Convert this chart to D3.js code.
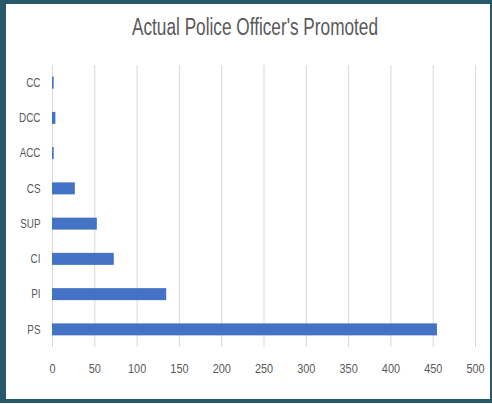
<!DOCTYPE html>
<html><head><meta charset="utf-8">
<script src="https://cdn.jsdelivr.net/npm/d3@7"></script>
<style>html,body{margin:0;padding:0;background:#fff;}svg{display:block;}</style>
</head><body>
<script>
const categories = ["CC","DCC","ACC","CS","SUP","CI","PI","PS"];
const values = [2,4,2,27,53,73,135,455];
const xTicks = [0,50,100,150,200,250,300,350,400,450,500];
const title = "Actual Police Officer's Promoted";

const W = 492, H = 404;
const svg = d3.select("body").append("svg").attr("width", W).attr("height", H);
svg.append("rect").attr("x",0).attr("y",0).attr("width",W).attr("height",H).attr("fill","#fff");

const m = {left:52, right:17, top:65, bottom:57};
const x = d3.scaleLinear().domain([0,500]).range([m.left, W - m.right]);
const y = d3.scaleBand().domain(categories).range([m.top, H - m.bottom]).paddingInner(0.66).paddingOuter(0.33);

const font = "'Liberation Sans', Arial, sans-serif";
function condense(sel, k){
  sel.each(function(){
    const L = this.getComputedTextLength();
    d3.select(this).attr("textLength", L*k).attr("lengthAdjust","spacingAndGlyphs");
  });
}

// gridlines
svg.append("g").selectAll("line").data(xTicks).join("line")
  .attr("x1", d=>x(d)+0.5).attr("x2", d=>x(d)+0.5)
  .attr("y1", m.top).attr("y2", H - m.bottom)
  .attr("stroke","#d9d9d9").attr("stroke-width",1);

// bars
svg.append("g").selectAll("rect").data(values).join("rect")
  .attr("x", x(0)).attr("y", (d,i)=>y(categories[i]))
  .attr("width", d=>x(d)-x(0)).attr("height", y.bandwidth())
  .attr("fill","#4472c4");

// x axis labels
const xAxis = d3.axisBottom(x).tickValues(xTicks).tickSize(0).tickPadding(0);
const gx = svg.append("g").attr("transform",`translate(0,${H - m.bottom + 17})`).call(xAxis);
gx.select(".domain").remove();
gx.selectAll("text").attr("font-family",font).attr("font-size",12.5).attr("fill","#595959").call(condense,0.87);

// y axis labels
const yAxis = d3.axisLeft(y).tickSize(0).tickPadding(0);
const gy = svg.append("g").attr("transform",`translate(${m.left-11.5},0)`).call(yAxis);
gy.select(".domain").remove();
gy.selectAll("text").attr("font-family",font).attr("font-size",13).attr("fill","#595959").call(condense,0.76);

// title
svg.append("text").attr("x",255).attr("y",35).attr("text-anchor","middle")
  .attr("font-family",font).attr("font-size",23).attr("fill","#595959").text(title)
  .attr("textLength",246).attr("lengthAdjust","spacingAndGlyphs");

// border
const bc = "#28596a";
svg.append("rect").attr("x",0).attr("y",0).attr("width",W).attr("height",4).attr("fill",bc);
svg.append("rect").attr("x",0).attr("y",0).attr("width",6).attr("height",403).attr("fill",bc);
svg.append("rect").attr("x",490).attr("y",0).attr("width",2).attr("height",403).attr("fill",bc);
svg.append("rect").attr("x",0).attr("y",399).attr("width",W).attr("height",4).attr("fill",bc);
</script>
</body></html>
